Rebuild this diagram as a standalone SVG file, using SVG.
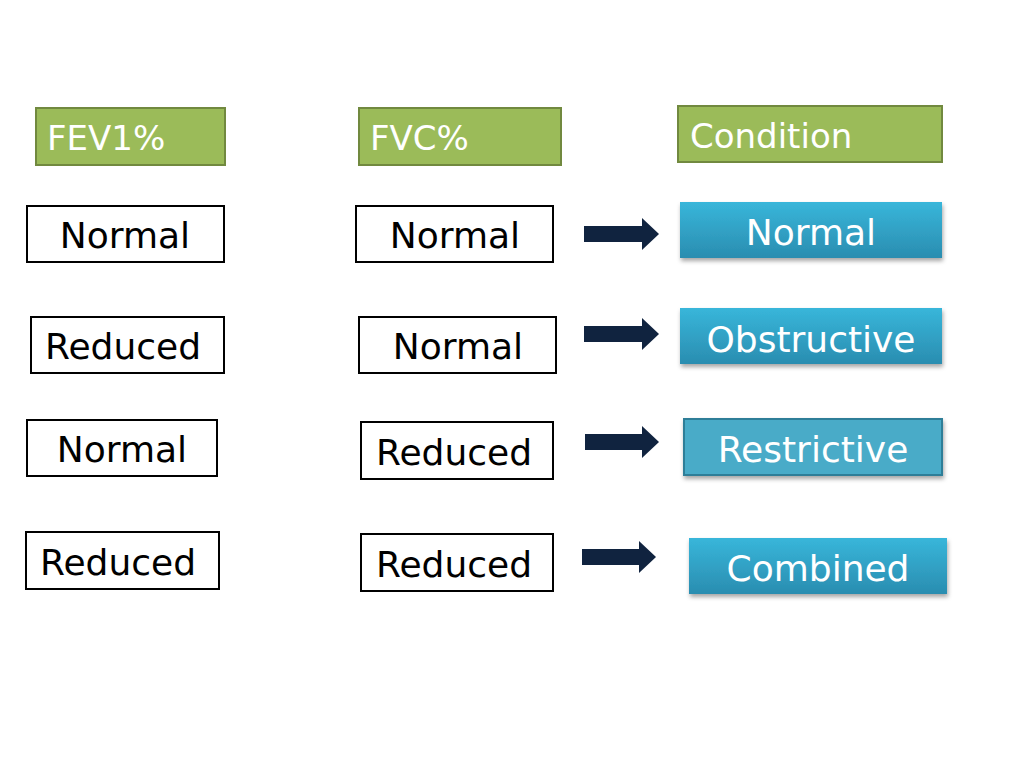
<svg xmlns="http://www.w3.org/2000/svg" width="1024" height="768" viewBox="0 0 1024 768">
<style>
text{font-family:"DejaVu Sans",Verdana,sans-serif}
.g{fill:#9bbb59;stroke:#71893f;stroke-width:2}
.gt{fill:#fff;font-size:34px}
.w{fill:#fff;stroke:#000;stroke-width:2}
.wt{fill:#000;font-size:36px;text-anchor:middle}
.b{fill:url(#bg)}
.bt{fill:#fff;font-size:36px;text-anchor:middle}
.ar{fill:#10233f}
</style>
<defs>
<linearGradient id="bg" x1="0" y1="0" x2="0" y2="1"><stop offset="0" stop-color="#38b6da"/><stop offset="1" stop-color="#2a8db0"/></linearGradient>
<filter id="sh" x="-5%" y="-10%" width="110%" height="130%"><feDropShadow dx="1" dy="3" stdDeviation="2" flood-opacity="0.35"/></filter>
</defs>
<rect width="1024" height="768" fill="#fff"/>
<g id="h1"><rect class="g" x="36" y="108" width="189" height="57"/><text class="gt" x="47" y="150">FEV1%</text></g>
<g id="h2"><rect class="g" x="359" y="108" width="202" height="57"/><text class="gt" x="370" y="150">FVC%</text></g>
<g id="h3"><rect class="g" x="678" y="106" width="264" height="56"/><text class="gt" x="690" y="148">Condition</text></g>
<g id="f1"><rect class="w" x="27" y="206" width="197" height="56"/><text class="wt" x="125" y="248">Normal</text></g>
<g id="v1"><rect class="w" x="356" y="206" width="197" height="56"/><text class="wt" x="455" y="248">Normal</text></g>
<g id="f2"><rect class="w" x="31" y="317" width="193" height="56"/><text class="wt" x="123" y="359">Reduced</text></g>
<g id="v2"><rect class="w" x="359" y="317" width="197" height="56"/><text class="wt" x="458" y="359">Normal</text></g>
<g id="f3"><rect class="w" x="27" y="420" width="190" height="56"/><text class="wt" x="122" y="462">Normal</text></g>
<g id="v3"><rect class="w" x="361" y="422" width="192" height="57"/><text class="wt" x="454" y="465">Reduced</text></g>
<g id="f4"><rect class="w" x="26" y="532" width="193" height="57"/><text class="wt" x="118" y="575">Reduced</text></g>
<g id="v4"><rect class="w" x="361" y="534" width="192" height="57"/><text class="wt" x="454" y="577">Reduced</text></g>
<g id="c1"><rect class="b" filter="url(#sh)" x="680" y="202" width="262" height="56"/><text class="bt" x="811" y="245">Normal</text></g>
<g id="c2"><rect class="b" filter="url(#sh)" x="680" y="308" width="262" height="56"/><text class="bt" x="811" y="352">Obstructive</text></g>
<g id="c3"><rect filter="url(#sh)" x="684" y="419" width="258" height="56" fill="#4aabc8" stroke="#2e7e98" stroke-width="2"/><text class="bt" x="813" y="462">Restrictive</text></g>
<g id="c4"><rect class="b" filter="url(#sh)" x="689" y="538" width="258" height="56"/><text class="bt" x="818" y="581">Combined</text></g>
<g id="connectors">
<polygon class="ar" points="584,226 642,226 642,218 659,234 642,250 642,242 584,242"/>
<polygon class="ar" points="584,326 642,326 642,318 659,334 642,350 642,342 584,342"/>
<polygon class="ar" points="585,434 642,434 642,426 659,442 642,458 642,450 585,450"/>
<polygon class="ar" points="582,549 639,549 639,541 656,557 639,573 639,565 582,565"/>
</g>
</svg>
